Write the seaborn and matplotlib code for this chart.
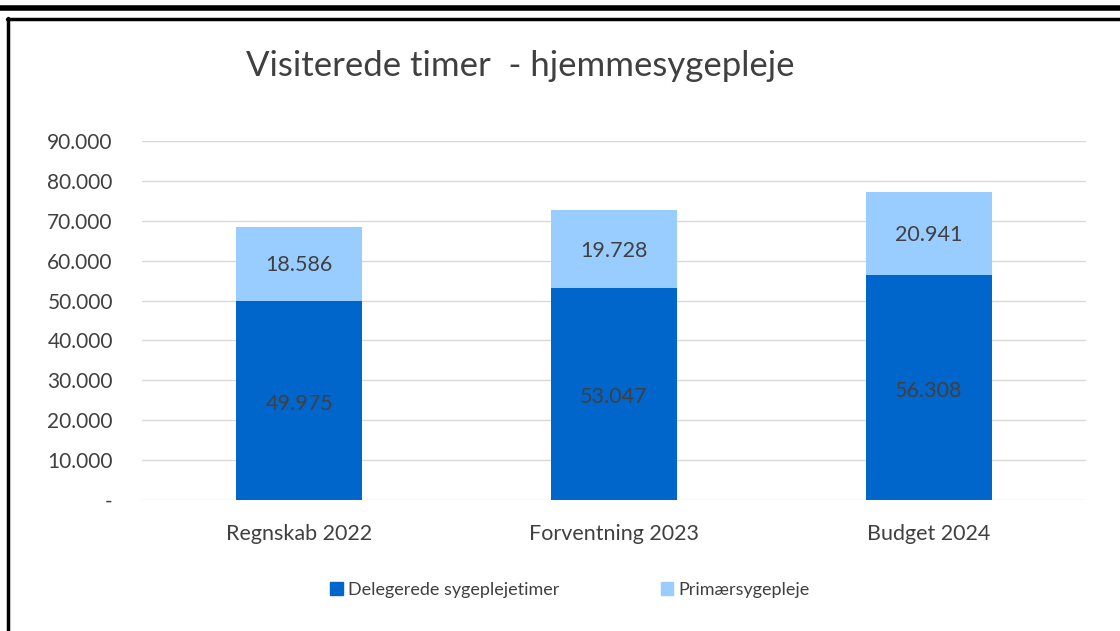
import pandas as pd
import seaborn as sns
import matplotlib.pyplot as plt
from matplotlib.patches import Patch
from matplotlib.lines import Line2D

# Data
kategorier = ["Regnskab 2022", "Forventning 2023", "Budget 2024"]
delegerede = [49975, 53047, 56308]
primaer = [18586, 19728, 20941]
y_ticks = [0, 10000, 20000, 30000, 40000, 50000, 60000, 70000, 80000, 90000]

df = pd.DataFrame({"Kategori": kategorier, "Delegerede": delegerede, "Primaer": primaer})
df["Total"] = df["Delegerede"] + df["Primaer"]

mork = "#0066CC"
lys = "#99CCFF"
tekst = "#404040"


def dk(v):
    return f"{v:,}".replace(",", ".")


sns.set_theme(style="white")
plt.rcParams["font.family"] = ["Lato", "DejaVu Sans"]

fig = plt.figure(figsize=(11.2, 6.31), dpi=100)
ax = fig.add_axes([142 / 1120, 1 - 500 / 631, 944 / 1120, 359 / 631])

# stablede søjler: total i lys farve, delegerede ovenpå i mørk
sns.barplot(data=df, x="Kategori", y="Total", color=lys, width=0.4, saturation=1,
            linewidth=0, edgecolor="none", ax=ax, zorder=2)
sns.barplot(data=df, x="Kategori", y="Delegerede", color=mork, width=0.4, saturation=1,
            linewidth=0, edgecolor="none", ax=ax, zorder=3)

for i, row in df.iterrows():
    ax.text(i, row["Delegerede"] / 2 - 800, dk(row["Delegerede"]), ha="center", va="center",
            fontsize=15.5, color=tekst, zorder=4)
    ax.text(i, row["Delegerede"] + row["Primaer"] / 2 - 400, dk(row["Primaer"]), ha="center", va="center",
            fontsize=15.5, color=tekst, zorder=4)

ax.set_ylim(0, 90000)
ax.set_xlim(-0.5, 2.5)
ax.set_yticks(y_ticks)
ax.set_yticklabels(["-"] + [dk(v) for v in y_ticks[1:]])
ax.yaxis.grid(True, color="#D9D9D9", linewidth=1, zorder=0)
ax.set_axisbelow(True)
for s in ax.spines.values():
    s.set_visible(False)
ax.tick_params(axis="y", length=0, pad=21, labelsize=15, labelcolor=tekst)
ax.tick_params(axis="x", length=0, pad=17, labelsize=15.5, labelcolor=tekst)
ax.set_xlabel("")
ax.set_ylabel("")

fig.text(520 / 1120, 1 - 66 / 631, "Visiterede timer  - hjemmesygepleje", ha="center", va="center",
         fontsize=25, color=tekst)

handles = [Patch(color=mork, label="Delegerede sygeplejetimer"), Patch(color=lys, label="Primærsygepleje")]
fig.legend(handles=handles, loc="center", bbox_to_anchor=(570 / 1120, 1 - 590 / 631), ncol=2,
           frameon=False, fontsize=13, labelcolor=tekst, handlelength=0.7, handleheight=0.7,
           handletextpad=0.3, columnspacing=5.6)

# ramme
fig.add_artist(Line2D([0, 1], [1 - 8 / 631, 1 - 8 / 631], color="black", linewidth=4))
fig.add_artist(Line2D([7 / 1120, 1], [1 - 19 / 631, 1 - 19 / 631], color="black", linewidth=2.5))
fig.add_artist(Line2D([7.5 / 1120, 7.5 / 1120], [0, 1 - 18 / 631], color="black", linewidth=2.5))

plt.savefig("out.png", dpi=100)
